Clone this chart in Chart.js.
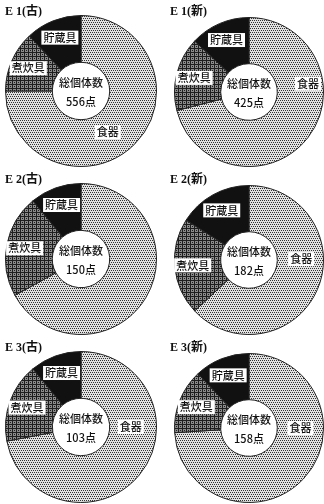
<!DOCTYPE html>
<html>
<head>
<meta charset="utf-8">
<script src="https://cdn.jsdelivr.net/npm/chart.js@4.4.1/dist/chart.umd.min.js"></script>
<style>
  html, body { margin: 0; padding: 0; background: #fff; }
  #page { position: relative; width: 324px; height: 504px; overflow: hidden; }
  .cell { position: absolute; width: 162px; height: 168px; overflow: hidden; }
</style>
</head>
<body>
<div id="page"></div>
<script>
// features (old / new phase) and total sherd counts
const features = ["E 1(古)", "E 1(新)", "E 2(古)", "E 2(新)", "E 3(古)", "E 3(新)"];
const totals = [556, 425, 150, 182, 103, 158];
const categories = ["食器", "煮炊具", "貯蔵具"];

// share of each ware type, percent
const foodWare = [75, 71, 67, 63, 72, 74];
const cookingWare = [13, 16, 22, 21, 17, 14];
const storageWare = [12, 13, 11, 16, 11, 12];

// where the 食器 tag sits (deg clockwise from top, fraction of radius); none on E 2(古)
const foodTag = [[147, 0.65], [82, 0.8], null, [89, 0.7], [90, 0.66], [90, 0.69]];

function makePattern(bg, fg, dots) {
  const c = document.createElement("canvas");
  c.width = 4; c.height = 4;
  const g = c.getContext("2d");
  g.fillStyle = bg;
  g.fillRect(0, 0, 4, 4);
  g.fillStyle = fg;
  dots.forEach(d => g.fillRect(d[0], d[1], 1, 1));
  return g.createPattern(c, "repeat");
}

// stippled screens like the printed figure
const foodFill = makePattern("#e2e2e2", "#333", [[0, 0], [2, 0], [1, 2], [3, 2]]);
const cookFill = makePattern("#8a8a8a", "#1e1e1e", [[0, 0], [1, 0], [2, 0], [3, 0], [0, 1], [0, 2], [0, 3], [2, 2]]);
const storeFill = "#111";

const donutText = {
  id: "donutText",
  afterDatasetsDraw(chart, args, opts) {
    const ctx = chart.ctx;
    const arcs = chart.getDatasetMeta(0).data;
    const cx = arcs[0].x, cy = arcs[0].y;
    ctx.save();
    ctx.textAlign = "center";
    ctx.textBaseline = "middle";
    ctx.font = '500 11px "Noto Sans CJK JP"';
    ctx.fillStyle = "#111";
    ctx.fillText("総個体数", cx, cy - 8);
    ctx.fillText(opts.total + "点", cx, cy + 11);

    arcs.forEach((arc, i) => {
      let ang, rr;
      if (i === 0) {
        if (!opts.foodTag) return;
        ang = (opts.foodTag[0] - 90) * Math.PI / 180;
        rr = arc.outerRadius * opts.foodTag[1];
      } else {
        ang = (arc.startAngle + arc.endAngle) / 2;
        rr = arc.outerRadius * 0.76;
      }
      const x = cx + Math.cos(ang) * rr;
      const y = cy + Math.sin(ang) * rr;
      const label = chart.data.labels[i];
      const w = ctx.measureText(label).width + 4;
      ctx.fillStyle = "#fff";
      ctx.fillRect(x - w / 2, y - 7, w, 14);
      ctx.fillStyle = "#111";
      ctx.fillText(label, x, y);
    });
    ctx.restore();
  }
};

features.forEach((name, i) => {
  const right = i % 2 === 1;
  const cell = document.createElement("div");
  cell.className = "cell";
  cell.style.left = (right ? 162 : 0) + "px";
  cell.style.top = Math.floor(i / 2) * 168 + "px";
  const canvas = document.createElement("canvas");
  canvas.width = right ? 170 : 162;
  canvas.height = 168;
  cell.appendChild(canvas);
  document.getElementById("page").appendChild(cell);

  new Chart(canvas.getContext("2d"), {
    type: "doughnut",
    data: {
      labels: categories,
      datasets: [{
        data: [foodWare[i], cookingWare[i], storageWare[i]],
        backgroundColor: [foodFill, cookFill, storeFill],
        borderColor: "#222",
        borderWidth: 1
      }]
    },
    plugins: [donutText],
    options: {
      responsive: false,
      animation: false,
      cutout: "38%",
      layout: {
        padding: right ? { left: 8, right: 4, top: 0, bottom: 1 } : { left: 5, right: 5, top: 0, bottom: 1 }
      },
      plugins: {
        legend: { display: false },
        tooltip: { enabled: false },
        title: {
          display: true,
          text: name,
          align: "start",
          color: "#111",
          font: { family: '"Liberation Serif", "Noto Sans CJK JP"', size: 12, weight: "bold", lineHeight: 1 },
          padding: right ? { top: 6, bottom: -1 } : { top: 6, bottom: -3 }
        },
        donutText: { total: totals[i], foodTag: foodTag[i] }
      }
    }
  });
});
</script>
</body>
</html>
